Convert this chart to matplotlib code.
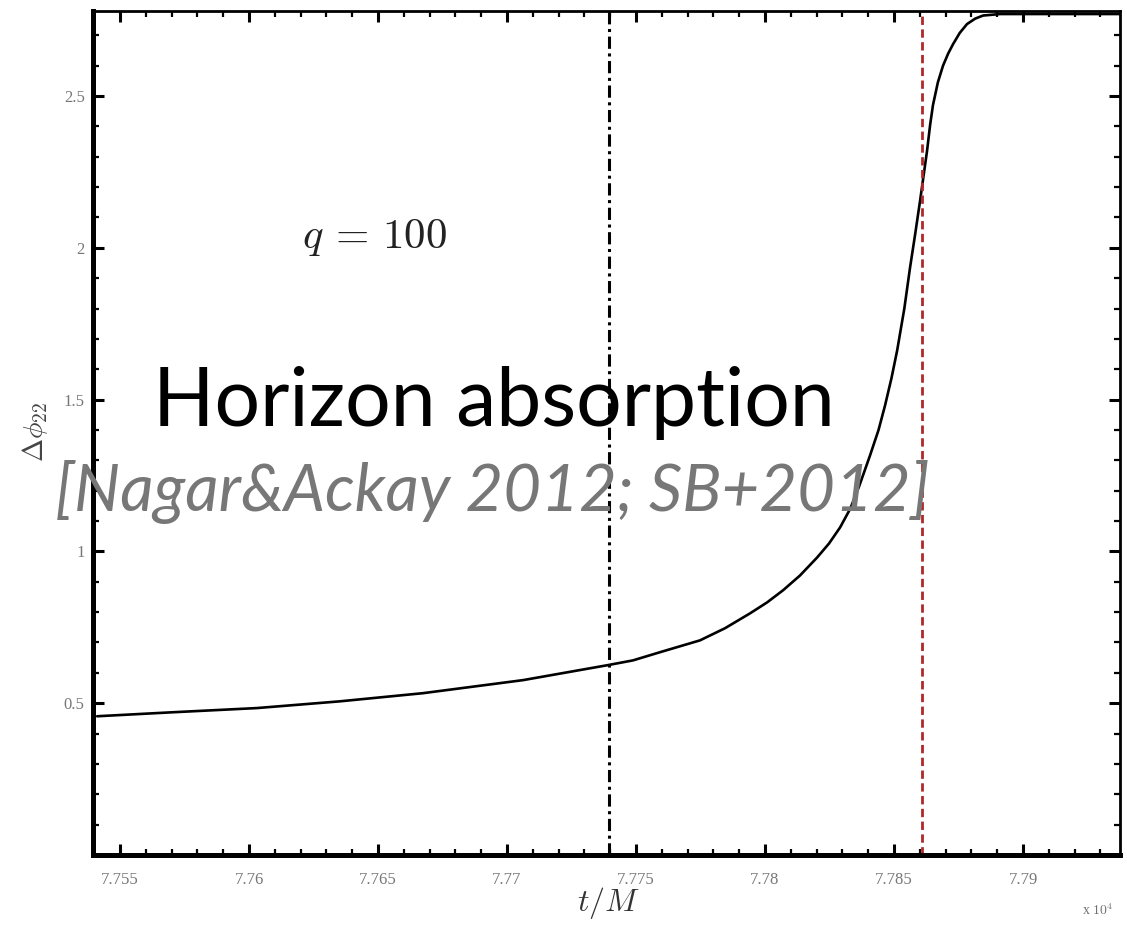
import matplotlib
matplotlib.use('Agg')
import matplotlib.pyplot as plt
from matplotlib.ticker import MultipleLocator

# phase difference vs time (t/M in units of 1e4)
t = [7.75411, 7.75700, 7.76031, 7.76350, 7.76674, 7.77062, 7.77388, 7.77488,
     7.77593, 7.77748, 7.77845, 7.77942, 7.78008, 7.78070, 7.78136, 7.78202,
     7.78248, 7.78291, 7.78330, 7.78365, 7.78407, 7.78440, 7.78465, 7.78490,
     7.78512, 7.78540, 7.78562, 7.78582, 7.78601, 7.78615, 7.78628, 7.78640,
     7.78651, 7.78670, 7.78690, 7.78710, 7.78729, 7.78755, 7.78783, 7.78815,
     7.78845, 7.78911, 7.79376]
dphi = [0.457, 0.470, 0.484, 0.506, 0.533, 0.576, 0.625, 0.641,
        0.668, 0.707, 0.747, 0.796, 0.832, 0.872, 0.921, 0.980,
        1.026, 1.079, 1.140, 1.215, 1.316, 1.400, 1.480, 1.570,
        1.661, 1.800, 1.934, 2.045, 2.155, 2.240, 2.319, 2.405,
        2.470, 2.545, 2.600, 2.640, 2.671, 2.708, 2.737, 2.755,
        2.765, 2.770, 2.770]

t_peak = 7.77395    # dash-dot marker
t_lr = 7.78609      # red dashed marker

xticks = [7.755, 7.76, 7.765, 7.77, 7.775, 7.78, 7.785, 7.79]
xticklabels = ['7.755', '7.76', '7.765', '7.77', '7.775', '7.78', '7.785', '7.79']
yticks = [0.5, 1, 1.5, 2, 2.5]
yticklabels = ['0.5', '1', '1.5', '2', '2.5']

plt.rcParams['mathtext.fontset'] = 'cm'

fig = plt.figure(figsize=(11.27, 9.26), dpi=100)
ax = fig.add_axes([93/1127, 71/926, 1027/1127, 844/926])

ax.plot(t, dphi, color='black', lw=1.9, solid_capstyle='round', solid_joinstyle='round')
ax.axvline(t_peak, color='black', lw=2.2, ls=(0, (4, 1.5, 1, 1.5)))
ax.axvline(t_lr, color='#b02828', lw=2.0, ls=(0, (3, 1.6)))

ax.set_xlim(7.75395, 7.79376)
ax.set_ylim(0, 2.78)

ax.set_xticks(xticks)
ax.set_xticklabels(xticklabels)
ax.set_yticks(yticks)
ax.set_yticklabels(yticklabels)
ax.xaxis.set_minor_locator(MultipleLocator(0.001))
ax.yaxis.set_minor_locator(MultipleLocator(0.1))

ax.tick_params(which='both', direction='in', top=True, right=True, color='black')
ax.tick_params(which='major', length=8, width=2.2)
ax.tick_params(axis='x', which='major', pad=12)
ax.tick_params(axis='y', which='major', pad=6)
ax.tick_params(which='minor', length=4, width=1.6)
for lab in ax.get_xticklabels() + ax.get_yticklabels():
    lab.set_fontfamily('Liberation Serif')
    lab.set_fontsize(12)
    lab.set_color('#777777')

for side in ['left', 'bottom']:
    ax.spines[side].set_linewidth(3.6)
for side in ['top', 'right']:
    ax.spines[side].set_linewidth(2.0)

# axis labels
fig.text(608/1127, 1 - 903/926, r'$t/M$', fontsize=23, ha='center', va='center',
         color='#333333')
fig.text(1098/1127, 1 - 910/926, r'x $10^4$', fontsize=10, ha='center', va='center',
         color='#707070', family='Liberation Serif')
fig.text(35/1127, 1 - 432/926, r'$\Delta\phi_{22}$', fontsize=20, rotation=90,
         ha='center', va='center', color='#444444')

fig.text(302/1127, 1 - 237/926, r'$q\,=\,100$', fontsize=31,
         ha='left', va='center', color='#222222')

# slide annotations
fig.text(494/1127, 1 - 403/926, 'Horizon absorption', fontsize=58,
         family='Lato', color='black', ha='center', va='center')
fig.text(492/1127, 1 - 492/926, '[Nagar&Ackay 2012; SB+2012]', fontsize=47,
         family='Lato', style='italic', color='#777777', ha='center', va='center')

fig.savefig('out.png', dpi=100)
